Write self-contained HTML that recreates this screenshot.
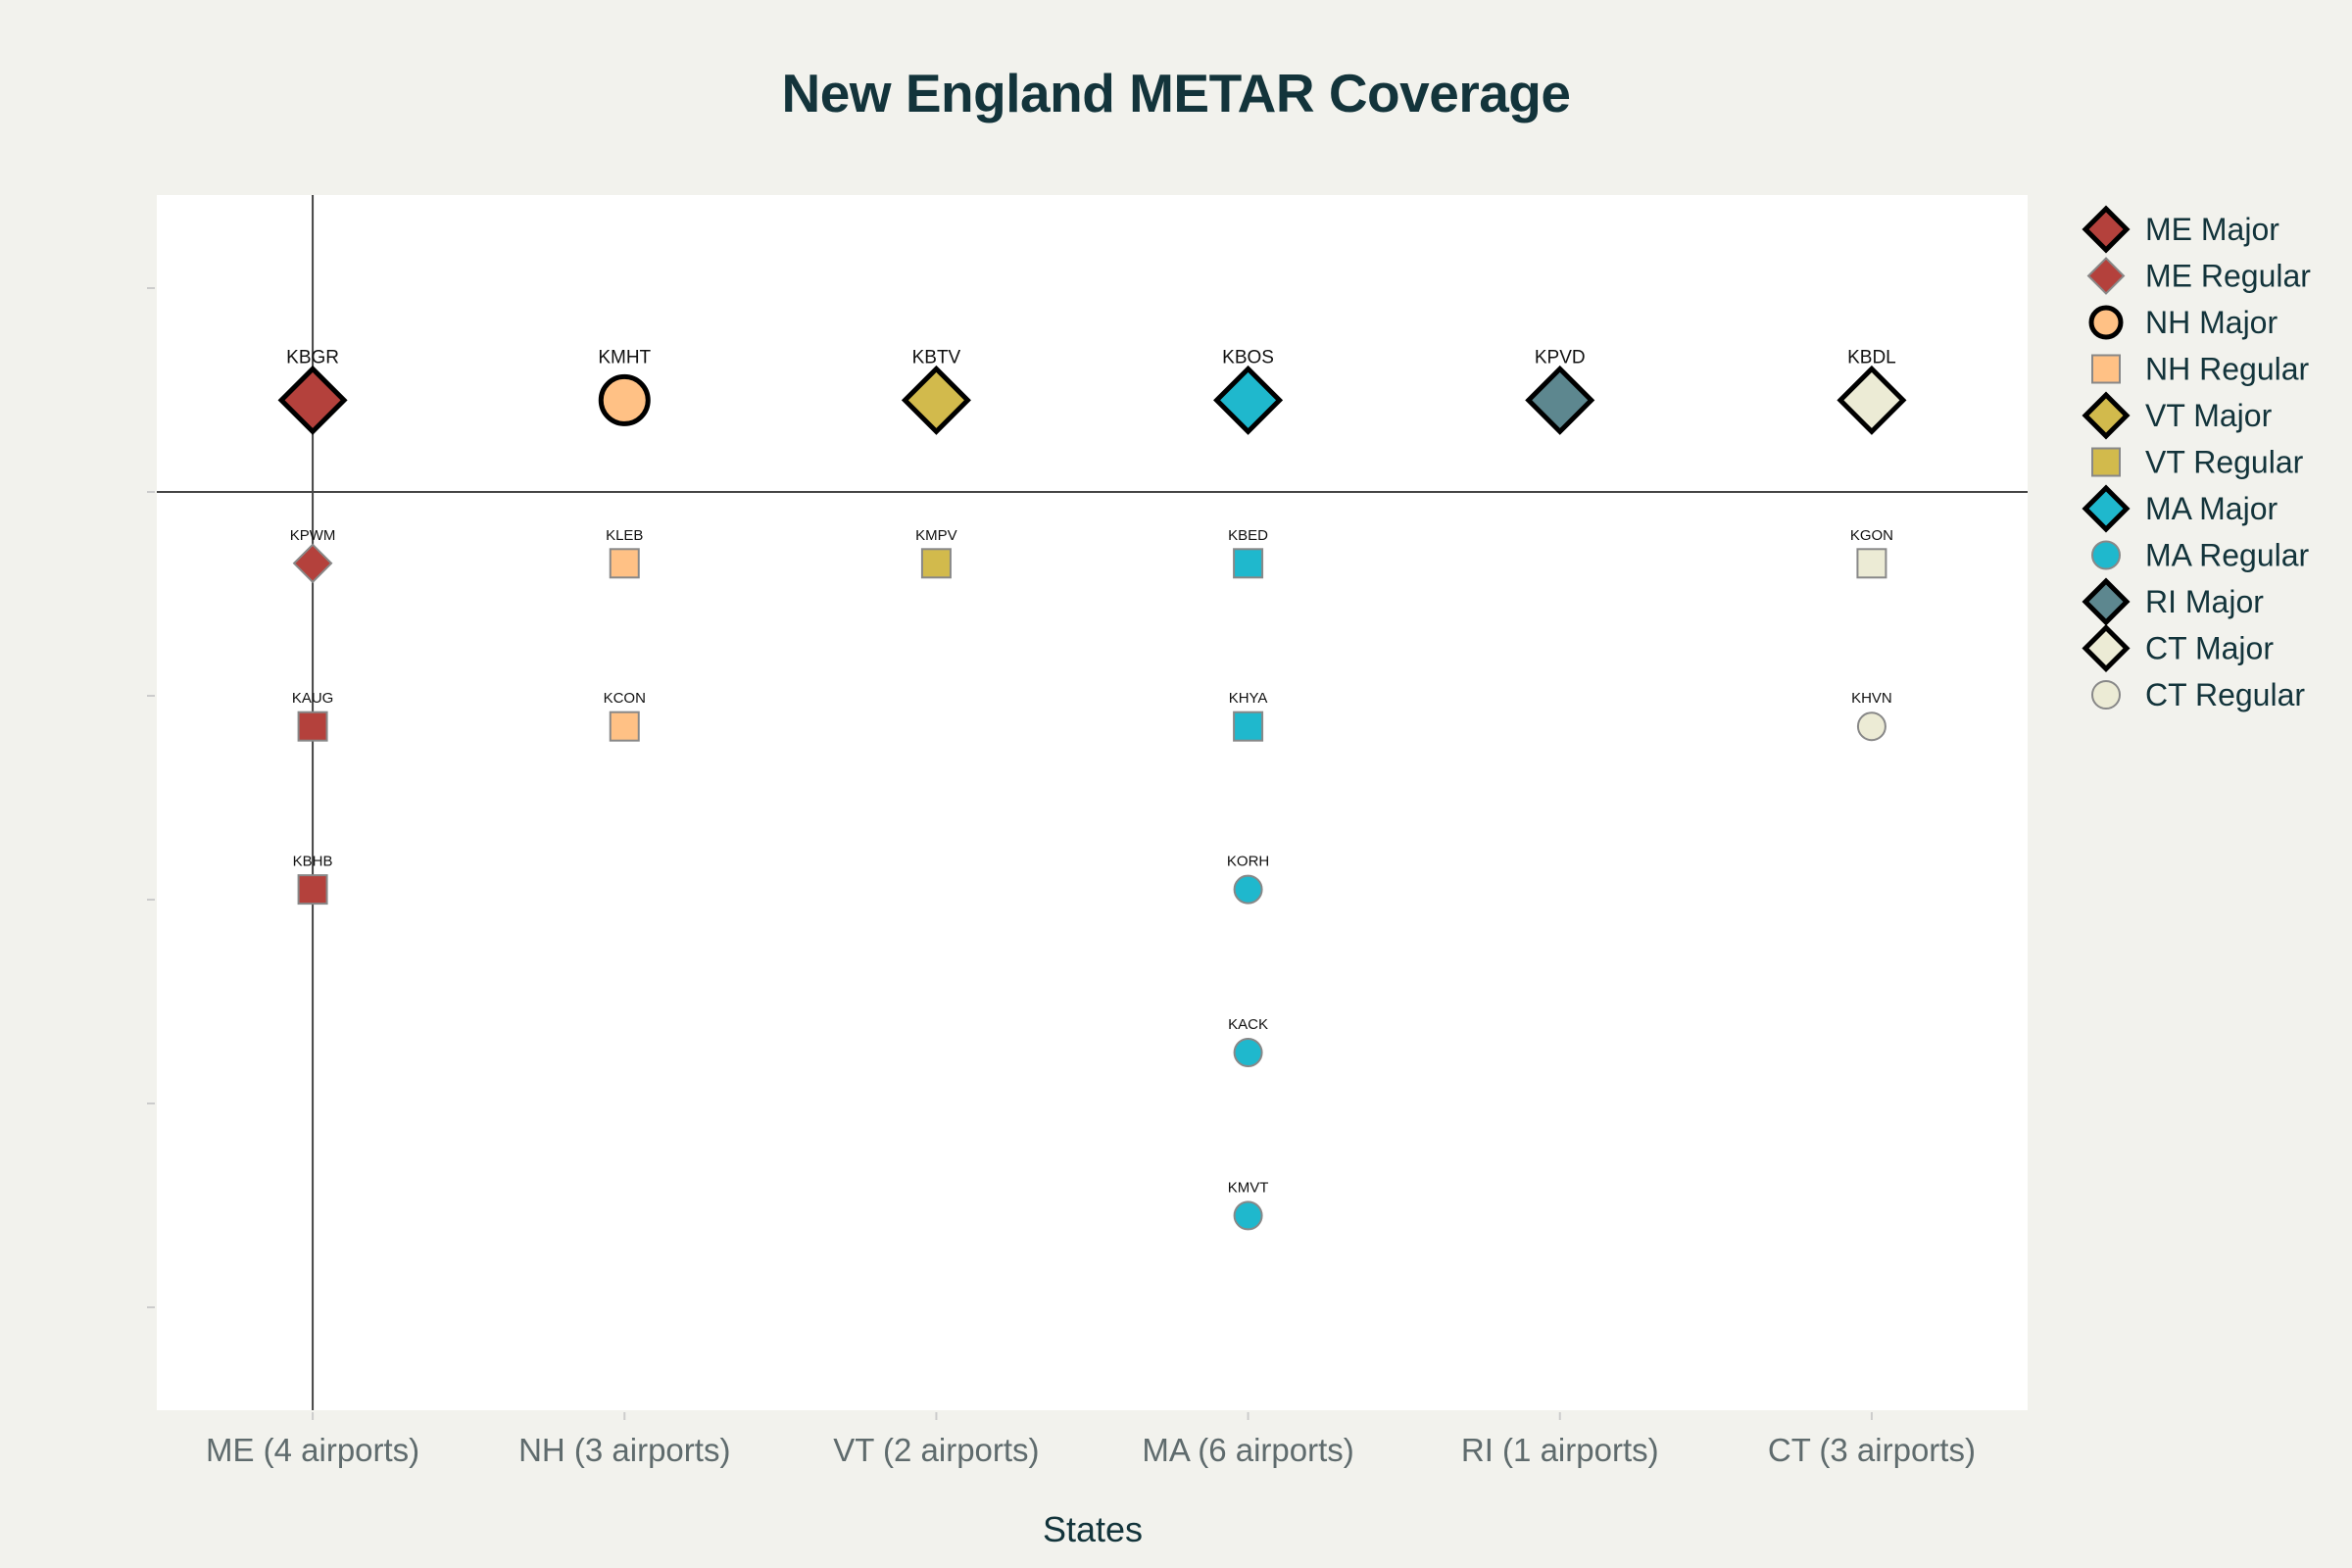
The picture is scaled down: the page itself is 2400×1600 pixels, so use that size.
<!DOCTYPE html>
<html><head><meta charset="utf-8">
<style>
html,body{margin:0;padding:0;background:#f2f2ed;}
svg{display:block;font-family:"Liberation Sans",sans-serif;}
</style></head>
<body>
<svg id="chart" width="2400" height="1600" viewBox="0 0 2400 1600" xmlns="http://www.w3.org/2000/svg">
<rect x="0" y="0" width="2400" height="1600" fill="#f2f2ed"/>
<text x="1200" y="114" text-anchor="middle" font-size="55" font-weight="bold" letter-spacing="-0.5" fill="#13343b">New England METAR Coverage</text>
<rect x="160" y="199" width="1909" height="1240" fill="#ffffff"/>
<g id="axes"></g>
<g id="marks"></g>
<g id="legend"></g>
<text x="1115" y="1573" text-anchor="middle" font-size="36" fill="#13343b">States</text>
</svg>
<script>
const categories = ["ME (4 airports)","NH (3 airports)","VT (2 airports)","MA (6 airports)","RI (1 airports)","CT (3 airports)"];
const stateCodes = ["ME","NH","VT","MA","RI","CT"];
const stateColors = ["#b4413c","#ffc185","#d2ba4c","#1fb8cd","#5d878f","#ecebd5"];
const majorCodes = ["KBGR","KMHT","KBTV","KBOS","KPVD","KBDL"];
const majorSymbols = ["diamond","circle","diamond","diamond","diamond","diamond"];
const majorY = [0.45,0.45,0.45,0.45,0.45,0.45];
const regularState = [0,0,0,1,1,2,3,3,3,3,3,5,5];
const regularCodes = ["KPWM","KAUG","KBHB","KLEB","KCON","KMPV","KBED","KHYA","KORH","KACK","KMVT","KGON","KHVN"];
const regularSymbols = ["diamond","square","square","square","square","square","square","square","circle","circle","circle","square","circle"];
const regularY = [-0.35,-1.15,-1.95,-0.35,-1.15,-0.35,-0.35,-1.15,-1.95,-2.75,-3.55,-0.35,-1.15];
const yTicks = [1,0,-1,-2,-3,-4];
const legendLabels = ["ME Major","ME Regular","NH Major","NH Regular","VT Major","VT Regular","MA Major","MA Regular","RI Major","CT Major","CT Regular"];
const legendState = [0,0,1,1,2,2,3,3,4,5,5];
const legendSymbols = ["diamond","diamond","circle","square","diamond","square","diamond","circle","diamond","diamond","circle"];
const legendMajor = [true,false,true,false,true,false,true,false,true,true,false];

const NS="http://www.w3.org/2000/svg";
const PL=160, PR=2069, PT=199, PB=1439, Y0=502, YU=208;
const xScale = i => PL + (i+0.5)*(PR-PL)/categories.length;
const yScale = v => Y0 - v*YU;
function mk(tag, attrs, parent){const e=document.createElementNS(NS,tag);for(const k in attrs)e.setAttribute(k,attrs[k]);parent.appendChild(e);return e;}
function symbol(parent, kind, cx, cy, major, fill){
  const st = major? "#000":"#888", sw = major? 5:2;
  let e;
  if(kind==="diamond"){const r=major?32:19;e=mk("polygon",{points:`${cx},${cy-r} ${cx+r},${cy} ${cx},${cy+r} ${cx-r},${cy}`,fill:fill,stroke:st,"stroke-width":sw},parent);}
  else if(kind==="circle"){const r=major?24:14;e=mk("circle",{cx:cx,cy:cy,r:r,fill:fill,stroke:st,"stroke-width":sw},parent);}
  else {const h=major?22:14.5;e=mk("rect",{x:cx-h,y:cy-h,width:2*h,height:2*h,fill:fill,stroke:st,"stroke-width":sw},parent);}
  return e;
}
const axes=document.getElementById("axes"), marks=document.getElementById("marks"), legend=document.getElementById("legend");
yTicks.forEach((t)=>{
  const tk=mk("line",{x1:150,x2:158,y1:yScale(t),y2:yScale(t),stroke:"#ccc","stroke-width":2},axes);
  
  
});
categories.forEach((c,i)=>{
  const tk=mk("line",{x1:xScale(i),x2:xScale(i),y1:PB+2,y2:PB+10,stroke:"#ccc","stroke-width":2},axes);
  
  
  const t=mk("text",{x:xScale(i),y:1491,"text-anchor":"middle","font-size":33,fill:"#5f6b6d"},axes);
  t.textContent=c;
  
  
});
const zx=mk("line",{x1:xScale(0),x2:xScale(0),y1:PT,y2:PB,stroke:"#444","stroke-width":2},axes);


const zy=mk("line",{x1:PL,x2:PR,y1:yScale(0),y2:yScale(0),stroke:"#444","stroke-width":2},axes);



majorCodes.forEach((code,i)=>{
  const cx=xScale(i), cy=yScale(majorY[i]);
  const m=symbol(marks,majorSymbols[i],cx,cy,true,stateColors[i]);
  
  
  const t=mk("text",{x:cx,y:cy-38,"text-anchor":"middle","font-size":19,fill:"#111"},marks);
  t.textContent=code;
  
  
});
regularCodes.forEach((code,i)=>{
  const s=regularState[i], cx=xScale(s), cy=yScale(regularY[i]);
  const m=symbol(marks,regularSymbols[i],cx,cy,false,stateColors[s]);
  
  
  const t=mk("text",{x:cx,y:cy-24,"text-anchor":"middle","font-size":15,fill:"#111"},marks);
  t.textContent=code;
  
  
});
legendLabels.forEach((lab,i)=>{
  const cy=234+i*47.5;
  const g=mk("g",{},legend);
  
  
  const s=legendMajor[i];
  const kind=legendSymbols[i];
  let e;
  const fill=stateColors[legendState[i]];
  if(kind==="diamond"){const r=s?21:18;e=mk("polygon",{points:`2149,${cy-r} ${2149+r},${cy} 2149,${cy+r} ${2149-r},${cy}`,fill:fill,stroke:s?"#000":"#888","stroke-width":s?5:2},g);}
  else if(kind==="circle"){e=mk("circle",{cx:2149,cy:cy,r:s?15:14,fill:fill,stroke:s?"#000":"#888","stroke-width":s?5:2},g);}
  else {e=mk("rect",{x:2135,y:cy-14,width:28,height:28,fill:fill,stroke:"#888","stroke-width":2},g);}
  
  
  const t=mk("text",{x:2189,y:cy+11,"font-size":32,fill:"#13343b"},g);
  t.textContent=lab;
  
  
});
</script>
</body></html>
